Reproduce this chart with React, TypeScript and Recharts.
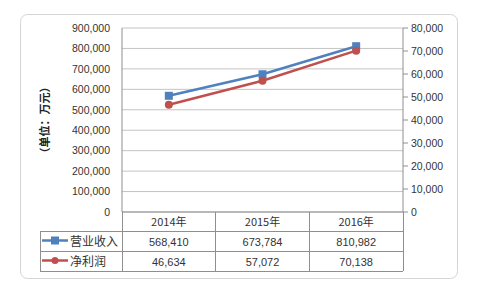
import React from 'react';
import { ComposedChart, Line, XAxis, YAxis, CartesianGrid } from 'recharts';

const categories = ['2014年', '2015年', '2016年'];
const revenue = [568410, 673784, 810982];
const profit = [46634, 57072, 70138];
const leftTicks = [0, 100000, 200000, 300000, 400000, 500000, 600000, 700000, 800000, 900000];
const rightTicks = [0, 10000, 20000, 30000, 40000, 50000, 60000, 70000, 80000];
const seriesNames = ['营业收入', '净利润'];
const yLabel = '（单位：万元）';

const data = categories.map((c, i) => ({ year: c, revenue: revenue[i], profit: profit[i] }));

const FONT = '"Liberation Sans", "Noto Sans CJK SC", sans-serif';
const CJK = '"Noto Sans CJK SC", "Liberation Sans", sans-serif';
const TEXT = '#333';
const TABLE_LINE = '#8f8f8f';
const BLUE = '#4F81BD';
const RED = '#C0504D';

const fmt = (v: number) => v.toLocaleString('en-US');

const PLOT_L = 122;
const PLOT_R = 403;
const PLOT_T = 28;
const PLOT_B = 212;
const ROW1 = 231;
const ROW2 = 251;
const ROW3 = 271;
const TABLE_L = 40;
const COL_W = (PLOT_R - PLOT_L) / categories.length;

const TableTick = (props: any) => {
  const { x, payload, index } = props;
  const i = index ?? categories.indexOf(payload.value);
  return (
    <g>
      <text x={x} y={225.5} textAnchor="middle" fontSize={11} fill={TEXT} fontFamily={CJK}>
        {payload.value}
      </text>
      <text x={x} y={245.5} textAnchor="middle" fontSize={11} fill={TEXT} fontFamily={FONT}>
        {fmt(revenue[i])}
      </text>
      <text x={x} y={265.5} textAnchor="middle" fontSize={11} fill={TEXT} fontFamily={FONT}>
        {fmt(profit[i])}
      </text>
    </g>
  );
};

const SquareDot = (props: any) => {
  const { cx, cy } = props;
  if (cx == null || cy == null) return null;
  return <rect x={cx - 4} y={cy - 4} width={8} height={8} fill={BLUE} />;
};

const CircleDot = (props: any) => {
  const { cx, cy } = props;
  if (cx == null || cy == null) return null;
  return <circle cx={cx} cy={cy} r={4} fill={RED} />;
};

export default function App() {
  return (
    <div style={{ position: 'absolute', left: 0, top: 0, width: 480, height: 289, background: '#fff' }}>
      <svg width={480} height={289} style={{ position: 'absolute', left: 0, top: 0 }}>
        <rect x={20.5} y={14.5} width={437} height={264} rx={7} fill="#fff" stroke="#d4d4d4" />
      </svg>
      <div style={{ position: 'absolute', left: 0, top: 0 }}>
        <ComposedChart
          width={480}
          height={289}
          data={data}
          margin={{ top: PLOT_T, right: 17, bottom: 17, left: 0 }}
        >
          <CartesianGrid horizontal vertical={false} stroke="#c4c4c4" />
          <XAxis
            dataKey="year"
            height={60}
            padding={{ left: COL_W / 2, right: COL_W / 2 }}
            axisLine={{ stroke: TABLE_LINE }}
            tickLine={false}
            tick={<TableTick />}
            interval={0}
          />
          <YAxis
            width={122}
            domain={[0, 900000]}
            ticks={leftTicks}
            tickFormatter={fmt}
            axisLine={{ stroke: TABLE_LINE }}
            tickLine={false}
            tickSize={6}
            tickMargin={6}
            tick={{ fontSize: 10.5, fill: TEXT, fontFamily: FONT }}
            interval={0}
          />
          <YAxis
            yAxisId="right"
            orientation="right"
            width={60}
            domain={[0, 80000]}
            ticks={rightTicks}
            tickFormatter={fmt}
            axisLine={{ stroke: TABLE_LINE }}
            tickLine={{ stroke: TABLE_LINE }}
            tickSize={5}
            tickMargin={3}
            tick={{ fontSize: 10.5, fill: TEXT, fontFamily: FONT }}
            interval={0}
          />
          <Line
            dataKey="revenue"
            stroke={BLUE}
            strokeWidth={2.5}
            dot={<SquareDot />}
            activeDot={false}
            isAnimationActive={false}
          />
          <Line
            dataKey="profit"
            yAxisId="right"
            stroke={RED}
            strokeWidth={2.5}
            dot={<CircleDot />}
            activeDot={false}
            isAnimationActive={false}
          />
        </ComposedChart>
      </div>
      <svg width={480} height={289} style={{ position: 'absolute', left: 0, top: 0, pointerEvents: 'none' }}>
        <g stroke={TABLE_LINE} strokeWidth={1} shapeRendering="crispEdges">
          <line x1={TABLE_L} y1={ROW1} x2={PLOT_R} y2={ROW1} />
          <line x1={TABLE_L} y1={ROW2} x2={PLOT_R} y2={ROW2} />
          <line x1={TABLE_L} y1={ROW3} x2={PLOT_R} y2={ROW3} />
          <line x1={TABLE_L} y1={ROW1} x2={TABLE_L} y2={ROW3} />
          <line x1={PLOT_L} y1={PLOT_B} x2={PLOT_L} y2={ROW3} />
          <line x1={PLOT_R} y1={PLOT_B} x2={PLOT_R} y2={ROW3} />
          {categories.slice(1).map((_, i) => (
            <line key={i} x1={PLOT_L + COL_W * (i + 1)} y1={PLOT_B} x2={PLOT_L + COL_W * (i + 1)} y2={ROW3} />
          ))}
        </g>
        <g>
          <line x1={42} y1={240.5} x2={68} y2={240.5} stroke={BLUE} strokeWidth={2.5} />
          <rect x={51} y={236.5} width={8} height={8} fill={BLUE} />
          <text x={70} y={245.5} fontSize={12} fill={TEXT} fontFamily={CJK}>{seriesNames[0]}</text>
          <line x1={42} y1={260.5} x2={68} y2={260.5} stroke={RED} strokeWidth={2.5} />
          <circle cx={55} cy={260.5} r={3.5} fill={RED} />
          <text x={70} y={265.5} fontSize={12} fill={TEXT} fontFamily={CJK}>{seriesNames[1]}</text>
        </g>
        <text
          transform="translate(49,120) rotate(-90)"
          textAnchor="middle"
          fontSize={11}
          fontWeight="bold"
          fill="#222"
          fontFamily={CJK}
        >
          {yLabel}
        </text>
      </svg>
    </div>
  );
}
